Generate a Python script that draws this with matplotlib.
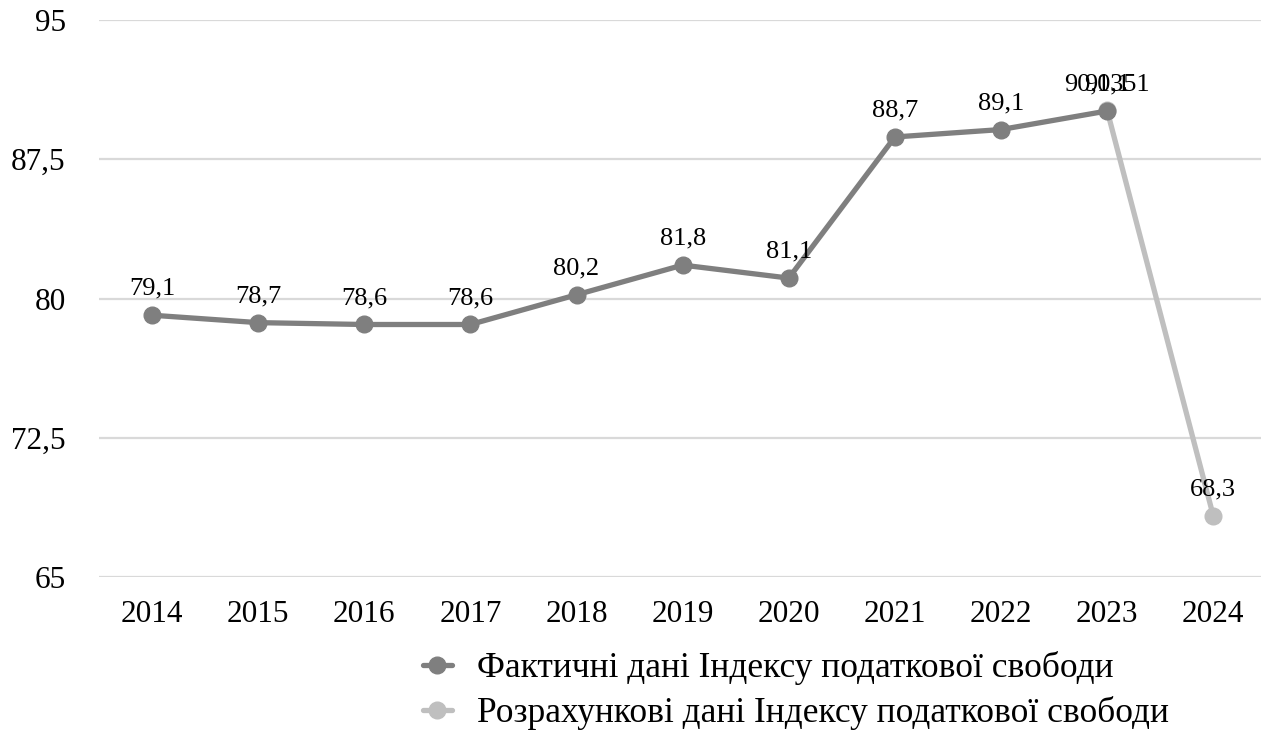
import matplotlib
matplotlib.use("Agg")
import matplotlib.pyplot as plt
import numpy as np

years = ["2014", "2015", "2016", "2017", "2018", "2019", "2020", "2021", "2022", "2023", "2024"]
actual = [79.1, 78.7, 78.6, 78.6, 80.2, 81.8, 81.1, 88.7, 89.1, 90.1, np.nan]
estimated = [np.nan] * 9 + [90.1351, 68.3]
yticks = [65, 72.5, 80, 87.5, 95]
label_actual = "Фактичні дані Індексу податкової свободи"
label_est = "Розрахункові дані Індексу податкової свободи"

plt.rcParams['font.family'] = ['Liberation Serif', 'DejaVu Serif']

W, H = 1261, 754
fig = plt.figure(figsize=(W / 100, H / 100), dpi=100)
ax = fig.add_axes([99 / W, (H - 577) / H, (W - 99) / W, 557 / H])

x = np.arange(len(years))
c_act = "#7f7f7f"
c_est = "#bfbfbf"

ax.plot(x, estimated, color=c_est, lw=3.8, marker="o", ms=12, zorder=3,
        solid_capstyle="round", label=label_est)
ax.plot(x, actual, color=c_act, lw=3.8, marker="o", ms=12, zorder=4,
        solid_capstyle="round", label=label_actual)

def fmt(v):
    return f"{v:g}".replace(".", ",")

for xi, v in zip(x, estimated):
    if not np.isnan(v):
        ax.annotate(fmt(v), (xi, v), xytext=(0, 11), textcoords="offset points",
                    ha="center", va="bottom", fontsize=19, zorder=5)
for xi, v in zip(x, actual):
    if not np.isnan(v):
        ax.annotate(fmt(v), (xi, v), xytext=(0, 11), textcoords="offset points",
                    ha="center", va="bottom", fontsize=19, zorder=5)

ax.set_xlim(-0.5, 10.45)
ax.set_ylim(65, 95)
ax.set_yticks(yticks)
ax.set_yticklabels([fmt(t) for t in yticks], fontsize=22.5)
ax.set_xticks(x)
ax.set_xticklabels(years, fontsize=22.5)
ax.tick_params(length=0)
ax.tick_params(axis="x", pad=16.5)
ax.tick_params(axis="y", pad=24)
ax.grid(axis="y", color="#d9d9d9", lw=1.6)
ax.set_axisbelow(True)
for s in ax.spines.values():
    s.set_visible(False)

h, l = ax.get_legend_handles_labels()
leg = fig.legend(h[::-1], l[::-1], loc="upper left", bbox_to_anchor=(409 / W, 1 - 637 / H),
                 frameon=False, fontsize=25.5, handlelength=0.8, handletextpad=0.72,
                 labelspacing=0.32, borderaxespad=0)

fig.savefig("out.png", dpi=100)
